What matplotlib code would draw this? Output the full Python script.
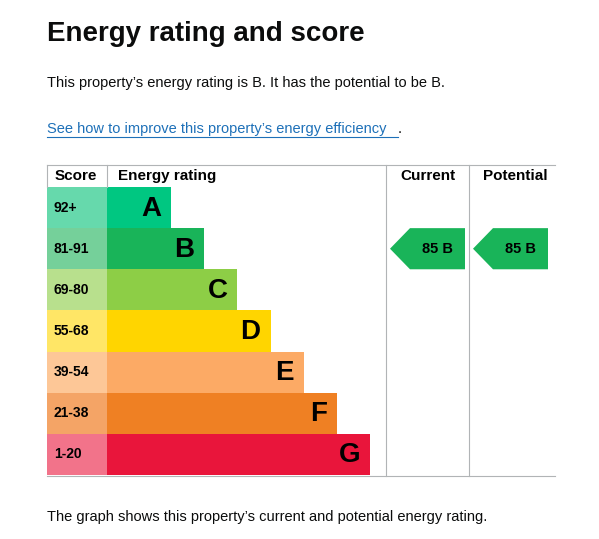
import matplotlib.pyplot as plt
from matplotlib.patches import Rectangle, Polygon

plt.rcParams['font.family'] = ['Liberation Sans', 'DejaVu Sans']

bands = ['A', 'B', 'C', 'D', 'E', 'F', 'G']
ranges = ['92+', '81-91', '69-80', '55-68', '39-54', '21-38', '1-20']
bar_colors = ['#00c781', '#19b459', '#8dce46', '#ffd500', '#fcaa65', '#ef8023', '#e9153b']
score_colors = ['#66d9ac', '#75d09a', '#b8e08d', '#ffe666', '#fdc797', '#f4a466', '#f2738a']
current_score, current_band = 85, 'B'
potential_score, potential_band = 85, 'B'

W, H = 599, 539
fig = plt.figure(figsize=(W / 100, H / 100), dpi=100)
ax = fig.add_axes([0, 0, 1, 1])
ax.set_xlim(0, W)
ax.set_ylim(H, 0)
ax.axis('off')

ax.text(47, 34, 'Energy rating and score', fontsize=20, fontweight='bold', va='center', color='#0b0c0c')
ax.text(47, 83, "This property\u2019s energy rating is B. It has the potential to be B.",
        fontsize=10.5, va='center', color='#0b0c0c')
link = ax.text(47, 129, "See how to improve this property\u2019s energy efficiency",
               fontsize=10.5, va='center', color='#1d70b8')
ax.plot([47, 398], [137, 137], color='#1d70b8', lw=0.8)
ax.text(398, 129, '.', fontsize=10.5, va='center', color='#0b0c0c')
ax.text(47, 517, "The graph shows this property\u2019s current and potential energy rating.",
        fontsize=10.5, va='center', color='#0b0c0c')

# grid
top, head, bottom = 165, 187, 476
left, right = 47, 555
grid = '#b1b4b6'
ax.plot([left, right], [top, top], color=grid, lw=0.8)
ax.plot([left, right], [bottom, bottom], color=grid, lw=0.8)
for x in [386, 469]:
    ax.plot([x, x], [top, bottom], color=grid, lw=0.8)
ax.plot([left, left], [top, head], color=grid, lw=0.8)
ax.plot([107, 107], [top, head], color=grid, lw=0.8)
ax.text(55, 176, 'Score', fontsize=11, fontweight='bold', va='center')
ax.text(118, 176, 'Energy rating', fontsize=11, fontweight='bold', va='center')
ax.text(428, 176, 'Current', fontsize=11, fontweight='bold', va='center', ha='center')
ax.text(515, 176, 'Potential', fontsize=11, fontweight='bold', va='center', ha='center')

row_h = (bottom - 1 - head) / len(bands)
for i, (b, r) in enumerate(zip(bands, ranges)):
    y0 = head + i * row_h
    ax.add_patch(Rectangle((left, y0), 60, row_h, color=score_colors[i], lw=0))
    end = 171 + i * 33.2
    ax.add_patch(Rectangle((107, y0), end - 107, row_h, color=bar_colors[i], lw=0))
    ax.text(54, y0 + row_h / 2, r, fontsize=10, fontweight='bold', va='center')
    ax.text(end - 10, y0 + row_h / 2 + 1, b, fontsize=20, fontweight='bold', va='center', ha='right')


def arrow(x0, score, band):
    i = bands.index(band)
    y0 = head + i * row_h
    y1 = y0 + row_h
    pts = [(x0, (y0 + y1) / 2), (x0 + 20, y0), (x0 + 75, y0), (x0 + 75, y1), (x0 + 20, y1)]
    ax.add_patch(Polygon(pts, closed=True, color=bar_colors[i], lw=0))
    ax.text(x0 + 47, (y0 + y1) / 2, f'{score} {band}', fontsize=10.5, fontweight='bold',
            va='center', ha='center')


arrow(390, current_score, current_band)
arrow(473, potential_score, potential_band)

fig.savefig('out.png', dpi=100)
